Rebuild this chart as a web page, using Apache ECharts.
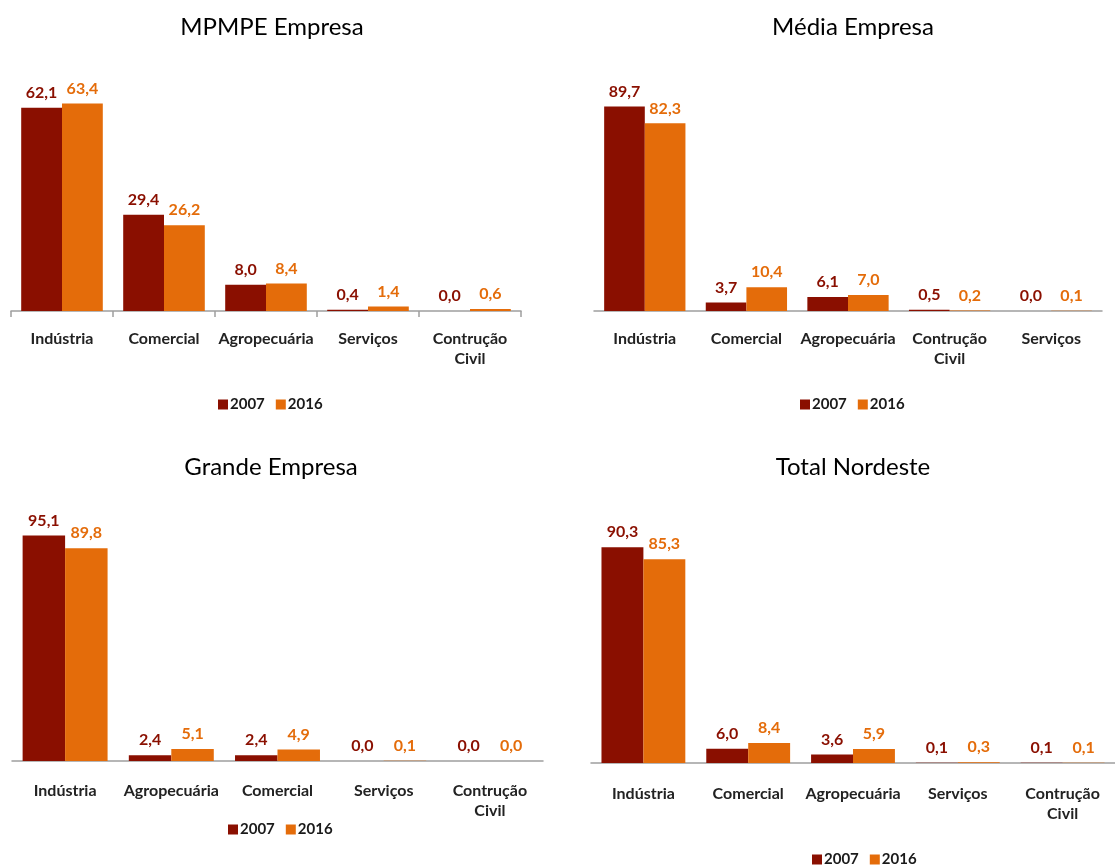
<!DOCTYPE html>
<html>
<head>
<meta charset="utf-8">
<script src="https://cdn.jsdelivr.net/npm/echarts@6/dist/echarts.min.js"></script>
<style>
  html, body { margin: 0; padding: 0; background: #fff; }
  #chart { width: 1115px; height: 866px; }
</style>
</head>
<body>
<div id="chart"></div>
<script>
// Participação por setor (%), 2007 x 2016
const titles = ['MPMPE Empresa', 'Média Empresa', 'Grande Empresa', 'Total Nordeste'];
const years = ['2007', '2016'];

const catsMPMPE = ['Indústria', 'Comercial', 'Agropecuária', 'Serviços', 'Contrução\nCivil'];
const mpmpe2007 = [62.1, 29.4, 8.0, 0.4, 0.0];
const mpmpe2016 = [63.4, 26.2, 8.4, 1.4, 0.6];

const catsMedia = ['Indústria', 'Comercial', 'Agropecuária', 'Contrução\nCivil', 'Serviços'];
const media2007 = [89.7, 3.7, 6.1, 0.5, 0.0];
const media2016 = [82.3, 10.4, 7.0, 0.2, 0.1];

const catsGrande = ['Indústria', 'Agropecuária', 'Comercial', 'Serviços', 'Contrução\nCivil'];
const grande2007 = [95.1, 2.4, 2.4, 0.0, 0.0];
const grande2016 = [89.8, 5.1, 4.9, 0.1, 0.0];

const catsTotal = ['Indústria', 'Comercial', 'Agropecuária', 'Serviços', 'Contrução\nCivil'];
const total2007 = [90.3, 6.0, 3.6, 0.1, 0.1];
const total2016 = [85.3, 8.4, 5.9, 0.3, 0.1];

const yMax = [70, 100, 100, 100];

const COLOR_A = '#8A0F00';
const COLOR_B = '#E46C0A';
const FONT = 'Lato, "Open Sans", sans-serif';

const panels = [
  { cats: catsMPMPE, a: mpmpe2007, b: mpmpe2016, grid: { left: 11, top: 82, width: 510, height: 229 }, title: [267, 10], legend: [213, 392], ticks: true, margin: 18 },
  { cats: catsMedia, a: media2007, b: media2016, grid: { left: 594, top: 83, width: 508, height: 228 }, title: [848, 10], legend: [795, 392], ticks: false, margin: 18 },
  { cats: catsGrande, a: grande2007, b: grande2016, grid: { left: 12, top: 524, width: 531, height: 237 }, title: [266, 450], legend: [223, 817], ticks: false, margin: 20 },
  { cats: catsTotal, a: total2007, b: total2016, grid: { left: 591, top: 524, width: 540, height: 239 }, title: [848, 450], legend: [807, 847], ticks: false, margin: 21 }
];

const fmt = p => p.value.toFixed(1).replace('.', ',');

const option = {
  animation: false,
  backgroundColor: '#ffffff',
  textStyle: { fontFamily: FONT },
  title: panels.map((p, i) => ({
    text: titles[i],
    left: p.title[0],
    top: p.title[1],
    textAlign: 'center',
    textStyle: { fontFamily: FONT, fontSize: 24, fontWeight: 'normal', color: '#000' }
  })),
  legend: panels.map(p => ({
    data: years,
    left: p.legend[0],
    top: p.legend[1],
    icon: 'rect',
    itemWidth: 10,
    itemHeight: 10,
    itemGap: 11,
    selectedMode: false,
    textStyle: { fontFamily: FONT, fontSize: 15, fontWeight: 'bold', color: '#1a1a1a', padding: [0, 0, 0, -3] }
  })),
  grid: panels.map(p => Object.assign({ containLabel: false }, p.grid)),
  xAxis: panels.map((p, i) => ({
    type: 'category',
    gridIndex: i,
    data: p.cats,
    boundaryGap: true,
    axisLine: { show: true, lineStyle: { color: '#9E9E9E', width: 1.5 } },
    axisTick: { show: p.ticks, interval: 0, length: 6, lineStyle: { color: '#9E9E9E', width: 1.5 } },
    axisLabel: {
      interval: 0,
      margin: p.margin,
      fontFamily: FONT,
      fontSize: 16,
      fontWeight: 'bold',
      color: '#222',
      lineHeight: 20,
      verticalAlign: 'top'
    }
  })),
  yAxis: panels.map((p, i) => ({
    type: 'value',
    gridIndex: i,
    min: 0,
    max: yMax[i],
    show: false,
    splitLine: { show: false }
  })),
  series: []
};

panels.forEach((p, i) => {
  [[years[0], p.a, COLOR_A], [years[1], p.b, COLOR_B]].forEach(([name, data, color]) => {
    option.series.push({
      type: 'bar',
      name: name,
      xAxisIndex: i,
      yAxisIndex: i,
      data: data,
      barGap: '0%',
      barCategoryGap: '20%',
      itemStyle: { color: color },
      label: {
        show: true,
        position: 'top',
        distance: 7,
        formatter: fmt,
        fontFamily: FONT,
        fontSize: 16,
        fontWeight: 'bold',
        color: color
      }
    });
  });
});

const chart = echarts.init(document.getElementById('chart'), null, { renderer: 'canvas' });
chart.setOption(option);
</script>
</body>
</html>
